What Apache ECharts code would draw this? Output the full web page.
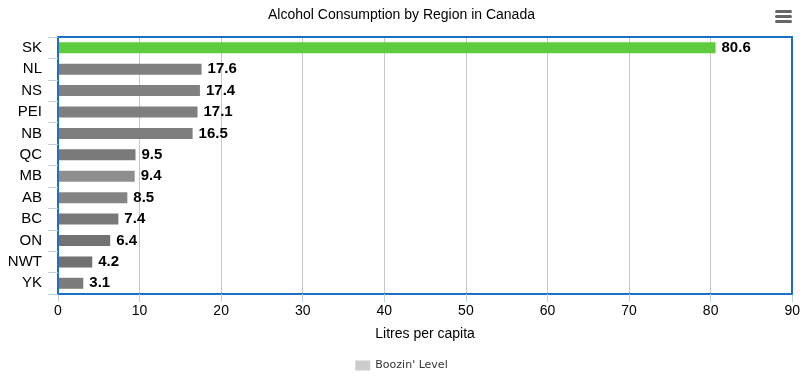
<!DOCTYPE html>
<html><head><meta charset="utf-8">
<script src="https://cdn.jsdelivr.net/npm/echarts@6/dist/echarts.min.js"></script>
<style>html,body{margin:0;padding:0;background:#fff}#c{width:803px;height:379px}</style>
</head><body><div id="c"></div>
<script>
const regions = ['SK','NL','NS','PEI','NB','QC','MB','AB','BC','ON','NWT','YK'];
const litres = [80.6,17.6,17.4,17.1,16.5,9.5,9.4,8.5,7.4,6.4,4.2,3.1];
const barColors = ['#5dcb3b','#808080','#808080','#7f7f7f','#7d7d7d','#7a7a7a','#8e8e8e','#848484','#787878','#737373','#717171','#7b7b7b'];
const xTicks = [0,10,20,30,40,50,60,70,80,90];
const FONT = '"Liberation Sans", Arial, sans-serif';
const BLUE = '#1c6fc4';
const chart = echarts.init(document.getElementById('c'));
chart.setOption({
  animation:false,
  title:{text:'Alcohol Consumption by Region in Canada',left:'center',top:3,
    textStyle:{fontFamily:FONT,fontSize:14,fontWeight:'normal',color:'#000'}},
  legend:{bottom:3,left:'center',itemWidth:15,itemHeight:10,icon:'rect',
    data:[{name:"Boozin' Level",itemStyle:{color:'#cccccc'}}],
    textStyle:{fontFamily:'"DejaVu Sans", sans-serif',fontSize:11,color:'#333'}},
  grid:{left:58,right:8,top:37,bottom:85},
  xAxis:[{type:'value',min:xTicks[0],max:xTicks[xTicks.length-1],interval:10,
    name:'Litres per capita',nameLocation:'middle',nameGap:33,
    nameTextStyle:{fontFamily:FONT,fontSize:14,color:'#000'},
    axisLine:{show:true,onZero:false,lineStyle:{color:BLUE,width:2}},
    axisTick:{show:true,length:8,lineStyle:{color:'#c0d0e0'}},
    axisLabel:{fontFamily:FONT,fontSize:14,color:'#000',margin:10},
    splitLine:{show:true,lineStyle:{color:'#c8c8c8',width:1}},z:1},
   {type:'value',position:'top',min:xTicks[0],max:xTicks[xTicks.length-1],interval:10,
    axisLine:{show:true,onZero:false,lineStyle:{color:BLUE,width:2}},
    axisTick:{show:false},axisLabel:{show:false},splitLine:{show:false},z:5}],
  yAxis:[{type:'category',data:regions,inverse:true,
    axisLine:{show:true,onZero:false,lineStyle:{color:BLUE,width:2}},
    axisTick:{show:true,length:10,lineStyle:{color:'#c0d0e0'}},
    axisLabel:{fontFamily:FONT,fontSize:15,color:'#000',margin:16},
    splitLine:{show:false},z:5},
   {type:'category',data:regions,inverse:true,position:'right',
    axisLine:{show:true,onZero:false,lineStyle:{color:BLUE,width:2}},
    axisTick:{show:false},axisLabel:{show:false},splitLine:{show:false},z:5}],
  series:[{name:"Boozin' Level",type:'bar',barWidth:11,xAxisIndex:0,yAxisIndex:0,
    data:litres.map((v,i)=>({value:v,itemStyle:{color:barColors[i]}})),
    label:{show:true,position:'right',distance:6,fontFamily:FONT,fontSize:15,fontWeight:'bold',color:'#000'}}],
  graphic:[
    {type:'rect',shape:{x:775,y:10,width:17,height:3,r:1.5},style:{fill:'#666'}},
    {type:'rect',shape:{x:775,y:15,width:17,height:3,r:1.5},style:{fill:'#666'}},
    {type:'rect',shape:{x:775,y:20,width:17,height:3,r:1.5},style:{fill:'#666'}}
  ]
});
</script></body></html>
